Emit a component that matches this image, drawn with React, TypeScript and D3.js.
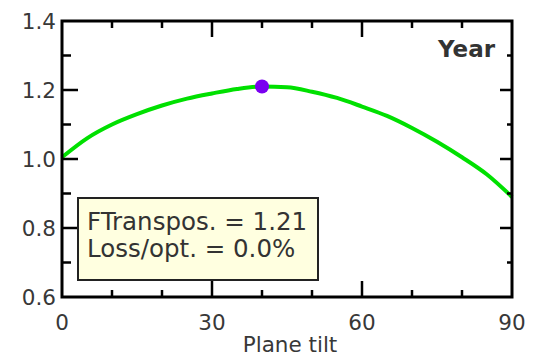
import React from "react";
import * as d3 from "d3";

const tilts = [0, 5, 10, 15, 20, 25, 30, 35, 40, 45, 50, 55, 60, 65, 70, 75, 80, 85, 90];
const transpos = [1.005, 1.06, 1.1, 1.13, 1.155, 1.175, 1.19, 1.203, 1.21, 1.208, 1.195, 1.177, 1.152, 1.125, 1.09, 1.05, 1.005, 0.955, 0.89];
const optimum = { tilt: 40, value: 1.21 };
const xTicks = [0, 30, 60, 90];
const xMinor = [10, 20, 40, 50, 70, 80];
const yTicks = [0.6, 0.8, 1.0, 1.2, 1.4];
const yMinor = [0.7, 0.9, 1.1, 1.3];
const infoLines = ["FTranspos. = 1.21", "Loss/opt. = 0.0%"];
const periodLabel = "Year";
const xTitle = "Plane tilt";

export default function App() {
  const L = 62, R = 512, T = 21, B = 297;
  const x = d3.scaleLinear().domain([0, 90]).range([L, R]);
  const y = d3.scaleLinear().domain([0.6, 1.4]).range([B, T]);
  const line = d3
    .line<number>()
    .x((_, i) => x(tilts[i]))
    .y((d) => y(d))
    .curve(d3.curveMonotoneX);
  const font = "'DejaVu Sans', Verdana, sans-serif";
  const txt = "#383838";
  return (
    <svg width={536} height={360} style={{ position: "absolute", left: 0, top: 0, background: "#fff" }}>
      <rect x={0} y={0} width={536} height={360} fill="#fff" />
      <path d={line(transpos) || ""} fill="none" stroke="#00e000" strokeWidth={4} />
      <circle cx={x(optimum.tilt)} cy={y(optimum.value)} r={7} fill="#7a00f0" />
      <g stroke="#000" strokeWidth={2.5}>
        {xTicks.slice(1, -1).map((t) => (
          <g key={"xm" + t}>
            <line x1={x(t)} x2={x(t)} y1={B} y2={B - 16} />
            <line x1={x(t)} x2={x(t)} y1={T} y2={T + 16} />
          </g>
        ))}
        {xMinor.map((t) => (
          <g key={"xn" + t}>
            <line x1={x(t)} x2={x(t)} y1={B} y2={B - 7} />
            <line x1={x(t)} x2={x(t)} y1={T} y2={T + 7} />
          </g>
        ))}
        {yTicks.slice(1, -1).map((t) => (
          <g key={"ym" + t}>
            <line x1={L} x2={L + 16} y1={y(t)} y2={y(t)} />
            <line x1={R} x2={R - 12} y1={y(t)} y2={y(t)} />
          </g>
        ))}
        {yMinor.map((t) => (
          <g key={"yn" + t}>
            <line x1={L} x2={L + 9} y1={y(t)} y2={y(t)} />
            <line x1={R} x2={R - 5} y1={y(t)} y2={y(t)} />
          </g>
        ))}
      </g>
      <rect x={L} y={T} width={R - L} height={B - T} fill="none" stroke="#000" strokeWidth={3} />
      <rect x={78} y={198} width={240} height={82} fill="#ffffe0" stroke="#222" strokeWidth={2} />
      {infoLines.map((s, i) => (
        <text key={s} x={87} y={230 + i * 27} fontFamily={font} fontSize={24.5} fill="#333">
          {s}
        </text>
      ))}
      <text x={495} y={57} textAnchor="end" fontFamily={font} fontWeight="bold" fontSize={23} fill="#333">
        {periodLabel}
      </text>
      {yTicks.map((t) => (
        <text key={"yl" + t} x={56} y={y(t)} dy="0.36em" textAnchor="end" fontFamily={font} fontSize={21.5} fill={txt}>
          {t.toFixed(1)}
        </text>
      ))}
      {xTicks.map((t) => (
        <text key={"xl" + t} x={x(t)} y={330} textAnchor="middle" fontFamily={font} fontSize={21.5} fill={txt}>
          {t}
        </text>
      ))}
      <text x={(L + R) / 2 + 3} y={352} textAnchor="middle" fontFamily={font} fontSize={21.5} fill={txt}>
        {xTitle}
      </text>
    </svg>
  );
}
